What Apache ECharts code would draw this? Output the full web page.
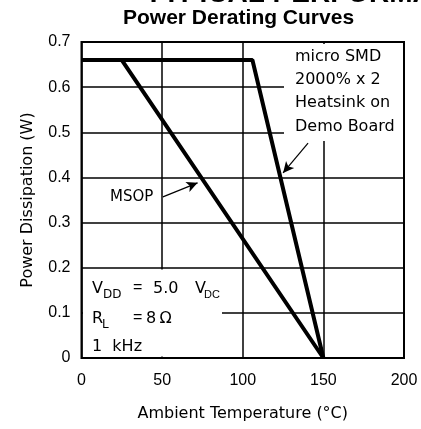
<!DOCTYPE html>
<html>
<head>
<meta charset="utf-8">
<script src="https://cdn.jsdelivr.net/npm/echarts@6/dist/echarts.min.js"></script>
<style>
	html, body { margin: 0; padding: 0; background: #fff; }
	#main { width: 421px; height: 429px; }
</style>
</head>
<body>
<div id="main"></div>
<script>
// data
var msopTemp = [0, 25, 150];
var msopPower = [0.66, 0.66, 0];
var smdTemp = [0, 106, 150];
var smdPower = [0.66, 0.66, 0];
var xTicks = [0, 50, 100, 150, 200];
var yTicks = [0, 0.1, 0.2, 0.3, 0.4, 0.5, 0.6, 0.7];

function pairs(xs, ys) {
	var out = [];
	for (var i = 0; i < xs.length; i++) out.push([xs[i], ys[i]]);
	return out;
}

var note = '"DejaVu Sans", sans-serif';
var sans = '"Liberation Sans", Arial, sans-serif';

function txt(x, y, s, size, fam) {
	return { type: 'text', z: 10, left: x, top: y, style: { text: s, font: size + 'px ' + (fam || note), fill: '#000' } };
}

var myChart = echarts.init(document.getElementById('main'));
var option = {
	animation: false,
	backgroundColor: '#fff',
	grid: {
		left: 81.5, right: 17, top: 42, bottom: 71,
		show: true, borderColor: '#000', borderWidth: 2
	},
	xAxis: {
		type: 'value',
		min: xTicks[0], max: xTicks[xTicks.length - 1], interval: 50,
		name: 'Ambient Temperature (\u00B0C)',
		nameLocation: 'middle', nameGap: 48,
		nameTextStyle: { fontFamily: note, fontSize: 16, color: '#000' },
		axisLine: { show: false },
		axisTick: { show: false },
		axisLabel: { margin: 15, fontFamily: sans, fontSize: 16, color: '#000' },
		splitLine: { show: true, lineStyle: { color: '#000', width: 1.5 } }
	},
	yAxis: {
		type: 'value',
		min: yTicks[0], max: yTicks[yTicks.length - 1], interval: 0.1,
		name: 'Power Dissipation (W)',
		nameLocation: 'middle', nameGap: 46,
		nameTextStyle: { fontFamily: note, fontSize: 16, color: '#000' },
		axisLine: { show: false },
		axisTick: { show: false },
		axisLabel: { margin: 11, fontFamily: sans, fontSize: 16, color: '#000' },
		splitLine: { show: true, lineStyle: { color: '#000', width: 1.5 } }
	},
	series: [{
		name: 'MSOP',
		type: 'line',
		data: pairs(msopTemp, msopPower),
		symbol: 'none',
		lineStyle: { color: '#000', width: 4 },
		z: 5,
		markLine: {
			silent: true, animation: false,
			symbol: ['none', 'arrow'], symbolSize: [8, 11],
			lineStyle: { color: '#000', width: 1.2, type: 'solid' },
			label: { show: false },
			data: [[{ coord: [50.5, 0.357] }, { coord: [72, 0.388] }]]
		}
	}, {
		name: 'micro SMD',
		type: 'line',
		data: pairs(smdTemp, smdPower),
		symbol: 'none',
		lineStyle: { color: '#000', width: 4 },
		z: 5,
		markLine: {
			silent: true, animation: false,
			symbol: ['none', 'arrow'], symbolSize: [8, 11],
			lineStyle: { color: '#000', width: 1.2, type: 'solid' },
			label: { show: false },
			data: [[{ coord: [140.5, 0.476] }, { coord: [125, 0.41] }]]
		}
	}],
	graphic: [
		// white panels behind the annotation text
		{ type: 'rect', z: 1, shape: { x: 284, y: 44, width: 119, height: 97 }, style: { fill: '#fff' } },
		{ type: 'rect', z: 1, shape: { x: 83, y: 269.5, width: 139, height: 87 }, style: { fill: '#fff' } },
		// page heading, cut off at the top edge
		{ type: 'text', z: 10, x: 145, y: -6, style: { text: 'TYPICAL PERFORMANCE CHARACTERISTICS', font: 'bold 28px ' + sans, fill: '#000', verticalAlign: 'middle' } },
		txt(123, 8, 'Power Derating Curves', 'bold 21', sans),
		{ type: 'text', z: 10, left: 295, top: 45, style: { text: 'micro SMD\n2000% x 2\nHeatsink on\nDemo Board', font: '16px ' + note, lineHeight: 23.3, fill: '#000' } },
		txt(110, 190, 'MSOP', 15),
		txt(92, 281, 'V', 16),
		txt(103, 289, 'DD', 12),
		txt(133, 280, '=', 16, sans),
		txt(153, 281, '5.0', 16),
		txt(195, 281, 'V', 16),
		txt(204, 289, 'DC', 11, sans),
		txt(92, 311, 'R', 16),
		txt(102, 319, 'L', 12),
		txt(133, 310, '=', 16, sans),
		txt(146, 311, '8\u2009\u03A9', 16),
		txt(92, 339, '1  kHz', 16)
	]
};
myChart.setOption(option);
</script>
</body>
</html>
